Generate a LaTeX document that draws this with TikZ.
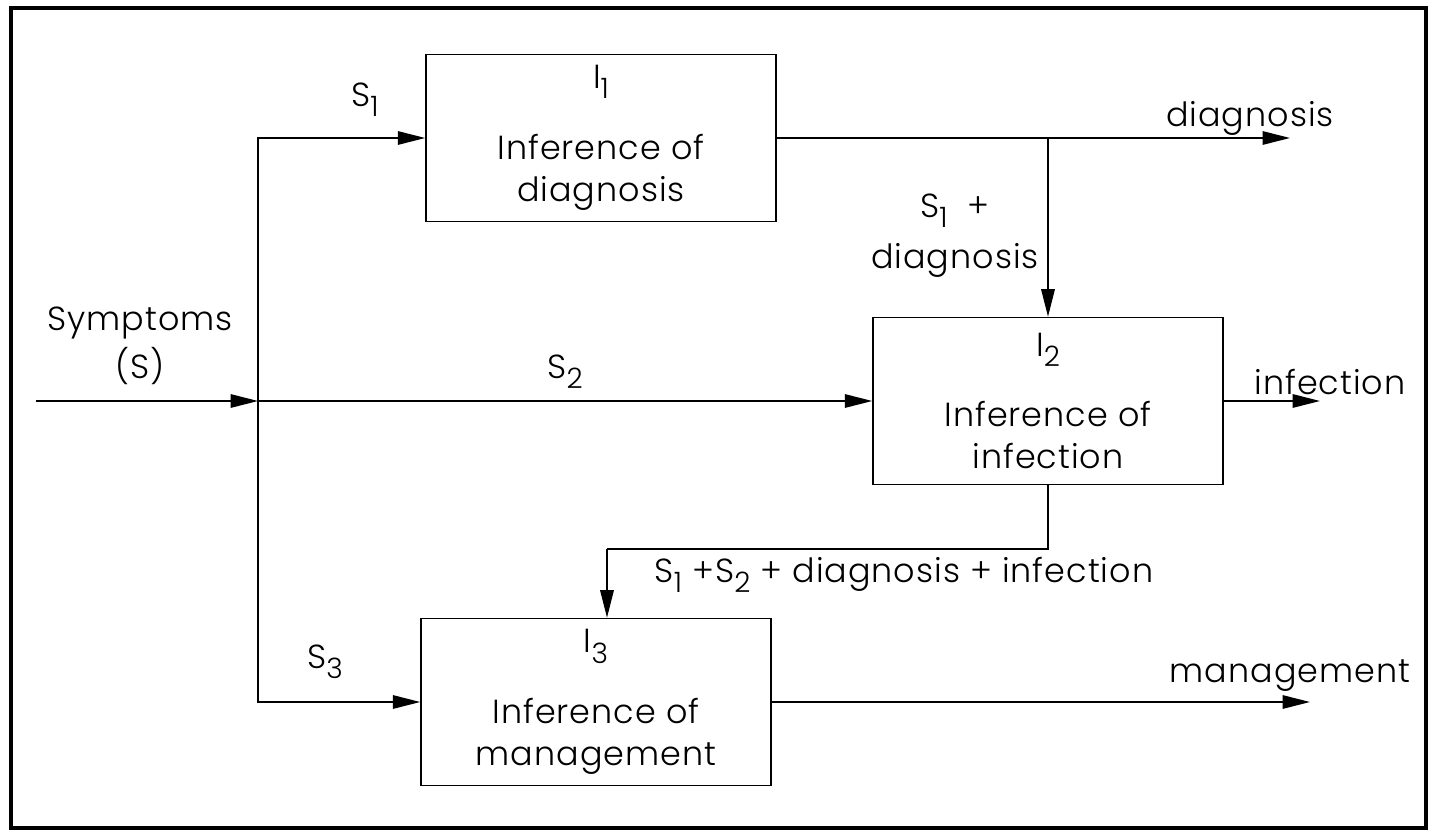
\documentclass[tikz,border=0pt]{standalone}
\usepackage{fontspec}
\setmainfont{Poppins Light}[LetterSpace=3]
\usetikzlibrary{arrows.meta,calc}
\newcommand\subx[1]{\raisebox{-0.55ex}{\fontsize{16pt}{16pt}\selectfont #1}}
\begin{document}
\begin{tikzpicture}[x=0.02cm,y=-0.02cm,
  every node/.style={font=\fontsize{19pt}{24pt}\selectfont, inner sep=0pt},
  blk/.style={draw, line width=0.9pt, minimum width=7cm, minimum height=3.34cm, align=center},
  lbl/.style={align=center},
  conn/.style={line width=0.9pt},
  arr/.style={conn, -{Triangle[length=5.5mm,width=2.7mm]}},
  frame/.style={line width=1.8pt}]
\useasboundingbox (0,0) rectangle (1433,834);
\draw[frame] (11,8) rectangle (1426,828);

% blocks
\node[blk] (I1) at (601,138) {I\subx{1}\\[16pt]Inference of\\diagnosis};
\node[blk] (I2) at (1048,401) {I\subx{2}\\[16pt]Inference of\\infection};
\node[blk] (I3) at (596,702) {I\subx{3}\\[16pt]Inference of\\management};

% coordinates
\coordinate (IN) at (36,401);
\coordinate (J) at (258,401);
\coordinate (Dout) at (1290,138);
\coordinate (Fout) at (1320,401);
\coordinate (Mout) at (1310,702);
\coordinate (B1) at (I2.north |- I1.east);
\coordinate (M) at (607,549);

% connectors
\draw[arr] (IN) -- (J);
\draw[arr] (J) |- (I1.west);
\draw[arr] (J) -- (I2.west);
\draw[arr] (J) |- (I3.west);
\draw[arr] (I1.east) -- (Dout);
\draw[arr] (B1) -- (I2.north);
\draw[arr] (I2.east) -- (Fout);
\draw[conn] (I2.south) |- (M);
\draw[arr] (M) -- (M |- I3.north);
\draw[arr] (I3.east) -- (Mout);

% labels
\node[lbl] (Lsym) at (140,346) {Symptoms\\[3pt](S)};
\node[lbl] (Ls1) at (365,100) {S\subx{1}};
\node[lbl] (Ls2) at (565,372) {S\subx{2}};
\node[lbl] (Ls3) at (325,662) {S\subx{3}};
\node[lbl] (Ls1d) at (955,236) {S\subx{1} \ +\\[5pt]diagnosis};
\node[lbl] (Ldiag) at (1250,118) {diagnosis};
\node[lbl] (Linf) at (1330,382) {infection};
\node[lbl] (Lman) at (1290,676) {management};
\node[lbl] (Lall) at (904,575) {S\subx{1} +S\subx{2} + diagnosis + infection};
\end{tikzpicture}
\end{document}
